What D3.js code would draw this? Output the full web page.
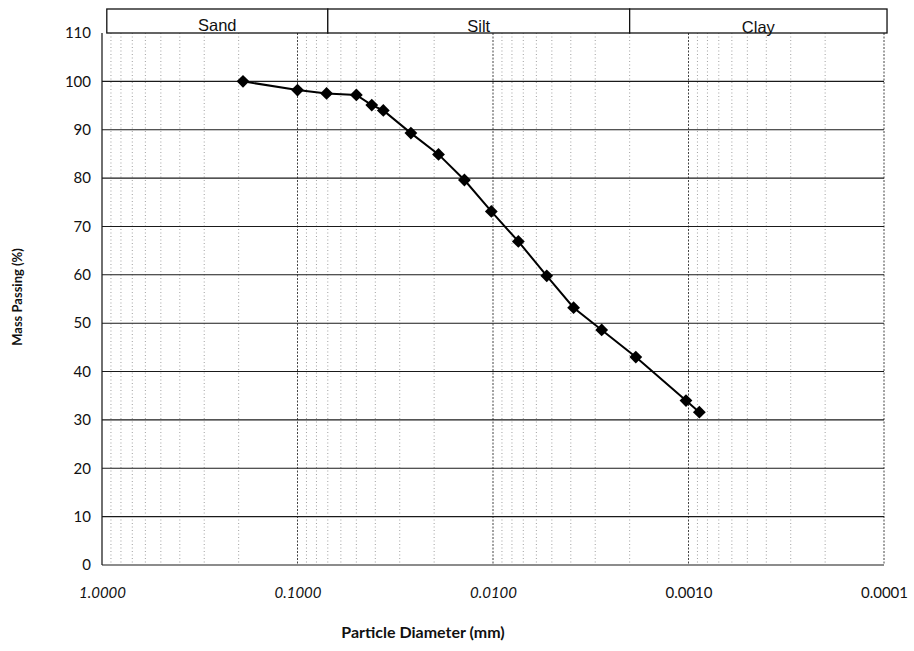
<!DOCTYPE html>
<html>
<head>
<meta charset="utf-8">
<script src="https://cdn.jsdelivr.net/npm/d3@7"></script>
<style>
  body { margin: 0; background: #fff; }
  svg { display: block; }
</style>
</head>
<body>
<div id="graph"></div>
<script>
// Chart data
var diameters = [0.19, 0.1, 0.071, 0.05, 0.0417, 0.0364, 0.0263, 0.0190, 0.0140, 0.0102,
                 0.00742, 0.00531, 0.00387, 0.00278, 0.00186, 0.00103, 0.00088];
var passing = [100, 98.2, 97.5, 97.2, 95.1, 94.0, 89.3, 84.9, 79.6, 73.1,
               66.9, 59.8, 53.2, 48.6, 43.0, 34.0, 31.6];
var xTickValues = [1, 0.1, 0.01, 0.001, 0.0001];
var xTickLabels = ['1.0000', '0.1000', '0.0100', '0.0010', '0.0001'];
var yTickValues = [0, 10, 20, 30, 40, 50, 60, 70, 80, 90, 100, 110];
var soilBands = ['Sand', 'Silt', 'Clay'];
var bandEdges = [0.945, 0.07, 0.002, 0.0000965];

// Graph dimensions
var margin = {top: 33, right: 30, bottom: 86, left: 102},
    width = 914 - margin.left - margin.right,
    height = 651 - margin.top - margin.bottom;

// Scales
var x = d3.scaleLog().domain([1, 0.0001]).range([0, width]),
    y = d3.scaleLinear().domain([0, 110]).range([height, 0]);

var svg = d3.select('#graph')
    .append('svg')
    .attr('width', 914)
    .attr('height', 651);

var chart = svg.append('g')
    .attr('transform', 'translate(' + margin.left + ',' + margin.top + ')');

// Minor vertical gridlines (2..9 of each decade)
var minor = [];
xTickValues.slice(1).forEach(function(d) {
    for (var k = 2; k <= 9; k++) minor.push(d * k);
});
chart.append('g')
    .selectAll('line')
    .data(minor)
    .enter()
    .append('line')
        .attr('x1', function(d) { return x(d); })
        .attr('x2', function(d) { return x(d); })
        .attr('y1', 0)
        .attr('y2', height)
        .attr('stroke', '#a0a0a0')
        .attr('stroke-width', 1)
        .attr('stroke-dasharray', '1,2.5');

// Major vertical gridlines
chart.append('g')
    .selectAll('line')
    .data(xTickValues)
    .enter()
    .append('line')
        .attr('x1', function(d) { return x(d); })
        .attr('x2', function(d) { return x(d); })
        .attr('y1', 0)
        .attr('y2', height)
        .attr('stroke', function(d, i) { return i === 0 ? '#222' : '#444'; })
        .attr('stroke-width', function(d, i) { return i === 0 ? 1.3 : 1; })
        .attr('stroke-dasharray', function(d, i) { return i === 0 ? null : '2,1.5'; });

// Horizontal gridlines
chart.append('g')
    .selectAll('line')
    .data(yTickValues.slice(0, -1))
    .enter()
    .append('line')
        .attr('x1', 0)
        .attr('x2', width)
        .attr('y1', function(d) { return y(d); })
        .attr('y2', function(d) { return y(d); })
        .attr('stroke', '#1a1a1a')
        .attr('stroke-width', 1.1);

// Y axis labels
var yAxis = d3.axisLeft(y).tickValues(yTickValues).tickSize(0).tickPadding(11);
chart.append('g')
    .call(yAxis)
    .call(function(g) { g.select('.domain').remove(); })
    .selectAll('text')
        .attr('font-family', 'Lato, "Open Sans", sans-serif')
        .attr('font-size', 15)
        .attr('fill', '#111');

// X axis labels
var xAxis = d3.axisBottom(x).tickValues(xTickValues).tickSize(0).tickPadding(22)
    .tickFormat(function(d, i) { return xTickLabels[i]; });
chart.append('g')
    .attr('transform', 'translate(0,' + height + ')')
    .call(xAxis)
    .call(function(g) { g.select('.domain').remove(); })
    .selectAll('text')
        .attr('font-family', 'Lato, "Open Sans", sans-serif')
        .attr('font-size', 15)
        .attr('font-style', function(d, i) { return i < 3 ? 'italic' : 'normal'; })
        .attr('fill', '#111');

// Soil classification header
var bands = chart.append('g').attr('transform', 'translate(0,-24)');
bands.selectAll('rect')
    .data(soilBands)
    .enter()
    .append('rect')
        .attr('x', function(d, i) { return x(bandEdges[i]); })
        .attr('width', function(d, i) { return x(bandEdges[i + 1]) - x(bandEdges[i]); })
        .attr('y', 0)
        .attr('height', 24)
        .attr('fill', '#fff')
        .attr('stroke', '#111')
        .attr('stroke-width', 1.3);
bands.selectAll('text')
    .data(soilBands)
    .enter()
    .append('text')
        .attr('x', function(d, i) { return (x(bandEdges[i]) + x(bandEdges[i + 1])) / 2; })
        .attr('y', function(d, i) { return 22 + i; })
        .attr('text-anchor', 'middle')
        .attr('font-family', '"Liberation Sans", Arial, sans-serif')
        .attr('font-size', 16.5)
        .attr('fill', '#111')
        .text(function(d) { return d; });

// Data line
var points = diameters.map(function(d, i) { return {d: d, p: passing[i]}; });
var line = d3.line()
    .x(function(d) { return x(d.d); })
    .y(function(d) { return y(d.p); });
chart.append('path')
    .datum(points)
    .attr('fill', 'none')
    .attr('stroke', '#000')
    .attr('stroke-width', 2)
    .attr('d', line);

// Diamond markers
var diamond = d3.symbol().type(d3.symbolSquare).size(82);
chart.append('g')
    .selectAll('path')
    .data(points)
    .enter()
    .append('path')
        .attr('d', diamond)
        .attr('fill', '#000')
        .attr('transform', function(d) {
            return 'translate(' + x(d.d) + ',' + y(d.p) + ') rotate(45)';
        });

// Axis titles
svg.append('text')
    .attr('x', 423)
    .attr('y', 638)
    .attr('text-anchor', 'middle')
    .attr('font-family', 'Lato, "Open Sans", sans-serif')
    .attr('font-weight', 'bold')
    .attr('font-size', 16)
    .attr('fill', '#111')
    .text('Particle Diameter (mm)');

svg.append('text')
    .attr('transform', 'translate(22,297) rotate(-90)')
    .attr('text-anchor', 'middle')
    .attr('font-family', 'Lato, "Open Sans", sans-serif')
    .attr('font-weight', 'bold')
    .attr('font-size', 13)
    .attr('fill', '#111')
    .text('Mass Passing (%)');
</script>
</body>
</html>
